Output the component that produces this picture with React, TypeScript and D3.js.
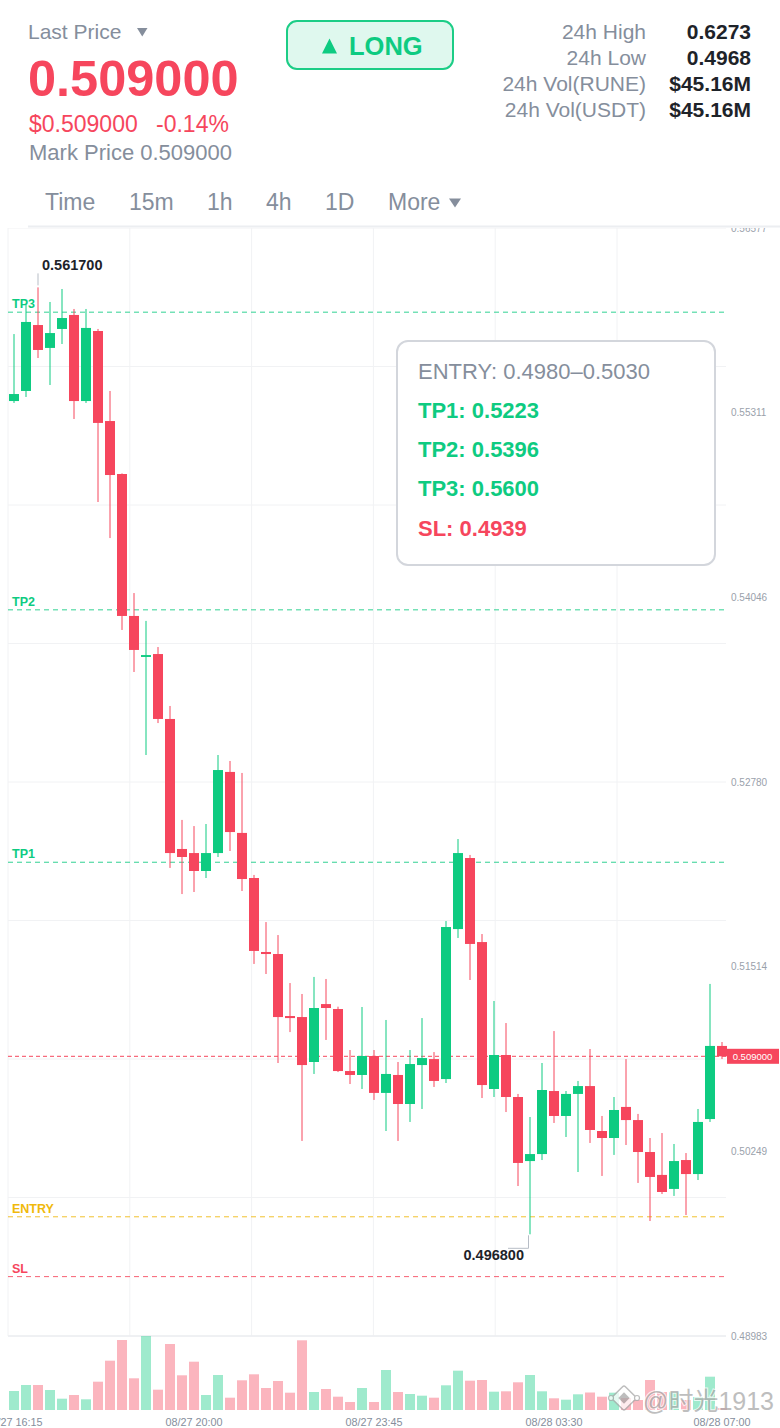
import React from "react";
import * as d3 from "d3";

// ---------- DATA ----------
const START_TIME = "08/27 16:15";
const STEP_MINUTES = 15;

const opens = [
  0.55391, 0.5546, 0.55912, 0.55755, 0.55885, 0.55981, 0.55391, 0.55871, 0.55254, 0.54891,
  0.53918, 0.53637, 0.53657, 0.53212, 0.52321, 0.52293, 0.5217, 0.52293, 0.52849, 0.52431,
  0.52122, 0.51615, 0.51601, 0.51176, 0.51169, 0.50861, 0.51258, 0.51224, 0.50799, 0.50772,
  0.50902, 0.50649, 0.50772, 0.50573, 0.5084, 0.50881, 0.50744, 0.51772, 0.52259, 0.51683,
  0.50676, 0.50909, 0.50621, 0.50182, 0.5023, 0.50662, 0.50491, 0.50642, 0.50696, 0.50388,
  0.5034, 0.50553, 0.50463, 0.50244, 0.50087, 0.49991, 0.50189, 0.50093, 0.5047, 0.50971,
];
const highs = [
  0.5585, 0.56049, 0.5617, 0.5607, 0.56159, 0.56022, 0.56022, 0.55885, 0.5546, 0.54895,
  0.54075, 0.53884, 0.53705, 0.53301, 0.5252, 0.52478, 0.52492, 0.52965, 0.52924, 0.52842,
  0.52143, 0.5182, 0.51731, 0.51402, 0.51327, 0.51444, 0.5143, 0.5124, 0.50943, 0.51238,
  0.50943, 0.51149, 0.50861, 0.50943, 0.51162, 0.50929, 0.51827, 0.52389, 0.5228, 0.51738,
  0.51279, 0.51128, 0.50642, 0.50484, 0.50854, 0.51073, 0.50662, 0.50731, 0.5095, 0.50491,
  0.50621, 0.50881, 0.50505, 0.5034, 0.50374, 0.50299, 0.50237, 0.50539, 0.51396, 0.50998,
];
const lows = [
  0.55378, 0.55419, 0.55686, 0.55501, 0.55782, 0.55268, 0.55378, 0.54699, 0.54452, 0.53822,
  0.53534, 0.52965, 0.53184, 0.52191, 0.52012, 0.52026, 0.52122, 0.52266, 0.52307, 0.52033,
  0.51533, 0.51464, 0.50854, 0.51066, 0.5032, 0.50779, 0.51012, 0.50792, 0.5071, 0.50676,
  0.50601, 0.50388, 0.5032, 0.5045, 0.50539, 0.5069, 0.50717, 0.51711, 0.51423, 0.50614,
  0.50621, 0.50518, 0.50011, 0.4968, 0.50189, 0.50443, 0.50347, 0.50107, 0.50306, 0.5008,
  0.50224, 0.50292, 0.50032, 0.49771, 0.49956, 0.49943, 0.49812, 0.50052, 0.5045, 0.50881,
];
const closes = [
  0.55439, 0.55933, 0.55741, 0.55857, 0.5596, 0.55391, 0.55892, 0.55241, 0.54884, 0.53918,
  0.53685, 0.5365, 0.53212, 0.52293, 0.52266, 0.5217, 0.52293, 0.52862, 0.52437, 0.52115,
  0.51622, 0.51601, 0.51169, 0.51162, 0.5084, 0.51231, 0.51231, 0.50799, 0.50772, 0.50902,
  0.50649, 0.50779, 0.50573, 0.50847, 0.50888, 0.50731, 0.51786, 0.52293, 0.5167, 0.50703,
  0.50909, 0.50621, 0.50169, 0.5023, 0.50669, 0.50491, 0.50642, 0.50696, 0.50395, 0.5034,
  0.50532, 0.50463, 0.50244, 0.50073, 0.4997, 0.50182, 0.50093, 0.5045, 0.50971, 0.509,
];
const volumes = [
  190, 250, 250, 200, 113, 150, 107, 283, 493, 700,
  317, 740, 203, 660, 347, 483, 150, 350, 123, 297,
  357, 220, 290, 173, 697, 180, 210, 133, 80, 220,
  80, 400, 180, 160, 143, 123, 247, 393, 293, 300,
  183, 187, 277, 350, 187, 117, 103, 157, 175, 133,
  173, 120, 100, 300, 180, 177, 100, 130, 333, 20,
];

const yTickLabels = ["0.56577", "0.55311", "0.54046", "0.52780", "0.51514", "0.50249", "0.48983"];
const xTickLabels = ["08/27 16:15", "08/27 20:00", "08/27 23:45", "08/28 03:30", "08/28 07:00"];

const levelNames = ["TP3", "TP2", "TP1", "ENTRY", "SL"];
const levelValues = [0.56, 0.5396, 0.5223, 0.498, 0.4939];

const boxLines = ["ENTRY: 0.4980–0.5030", "TP1: 0.5223", "TP2: 0.5396", "TP3: 0.5600", "SL: 0.4939"];

const statLabels = ["24h High", "24h Low", "24h Vol(RUNE)", "24h Vol(USDT)"];
const statValues = ["0.6273", "0.4968", "$45.16M", "$45.16M"];

const tabs = ["Time", "15m", "1h", "4h", "1D", "More"];

// ---------- STYLE / LAYOUT ----------
const FONT = "'Liberation Sans', Arial, Helvetica, sans-serif";
const GREEN = "#0ecb81";
const RED = "#f6465d";
const YELLOW = "#f0b90b";
const GREY = "#858e9c";
const DARK = "#1e2329";
const GRID = "#f1f2f4";

const W = 780;
const H = 1428;
const PLOT_L = 8;
const PLOT_R = 726;
const PRICE_TOP = 228;
const PRICE_BOT = 1336;
const VOL_BASE = 1410;
const tabX = [45, 129, 207, 266, 325, 388];
const levelColors = [GREEN, GREEN, GREEN, YELLOW, RED];
const boxColors = [GREY, GREEN, GREEN, GREEN, RED];

export default function App() {
  const parse = d3.timeParse("%m/%d %H:%M");
  const t0 = parse(START_TIME) as Date;
  const dates = opens.map((_, i) => d3.timeMinute.offset(t0, i * STEP_MINUTES));

  const x = d3
    .scaleTime()
    .domain([dates[0], dates[dates.length - 1]])
    .range([14, 722]);
  const yMin = +yTickLabels[yTickLabels.length - 1];
  const yMax = +yTickLabels[0];
  const y = d3.scaleLinear().domain([yMin, yMax]).range([PRICE_BOT, PRICE_TOP]);
  const v = d3
    .scaleLinear()
    .domain([0, d3.max(volumes) as number])
    .range([VOL_BASE, PRICE_BOT]);

  const hGrid = d3.range(9).map((i) => y(yMin + ((yMax - yMin) * i) / 8));
  const vGrid = d3.range(1, 6).map((k) => PLOT_L + k * 121.8);

  const fmt = d3.format(".6f");
  const hiIdx = d3.maxIndex(highs);
  const loIdx = d3.minIndex(lows);
  const last = closes[closes.length - 1];
  const yLast = y(last);

  const bodyW = 10;

  return (
    <svg
      width={W}
      height={H}
      viewBox={`0 0 ${W} ${H}`}
      style={{ position: "absolute", left: 0, top: 0, background: "#fff" }}
      fontFamily={FONT}
    >
      <rect x={0} y={0} width={W} height={H} fill="#fff" />

      {/* ---------- HEADER ---------- */}
      <text x={28} y={38.5} fontSize={21} fill={GREY}>Last Price</text>
      <path d="M137,28 L147.5,28 L142.25,36.5 Z" fill={GREY} />
      <text x={28} y={96} fontSize={50.5} fontWeight="bold" fill={RED}>{fmt(last)}</text>
      <text x={29} y={132} fontSize={23} fill={RED}>${fmt(last)}</text>
      <text x={156} y={132} fontSize={23} fill={RED}>-0.14%</text>
      <text x={29} y={159.5} fontSize={22} fill={GREY}>Mark Price {fmt(last)}</text>

      <rect x={287} y={21} width={166} height={48} rx={10} fill="#dff8ee" stroke="#1ccd86" strokeWidth={2} />
      <path d="M322,53.5 L337,53.5 L329.5,38.5 Z" fill={GREEN} />
      <text x={349} y={54.5} fontSize={25.5} fontWeight="bold" fill={GREEN}>LONG</text>

      {statLabels.map((s, i) => (
        <g key={s}>
          <text x={646} y={38.5 + i * 26} fontSize={21} fill={GREY} textAnchor="end">{s}</text>
          <text x={751} y={38.5 + i * 26} fontSize={21} fontWeight="bold" fill={DARK} textAnchor="end">
            {statValues[i]}
          </text>
        </g>
      ))}

      {tabs.map((t, i) => (
        <text key={t} x={tabX[i]} y={210} fontSize={23} fill={GREY}>{t}</text>
      ))}
      <path d="M449,198.5 L461,198.5 L455,207.5 Z" fill={GREY} />

      <line x1={28} x2={W} y1={226.5} y2={226.5} stroke="#eceef1" strokeWidth={2} />

      {/* ---------- CHART ---------- */}
      <defs>
        <clipPath id="chartClip">
          <rect x={0} y={PRICE_TOP} width={W} height={H - PRICE_TOP} />
        </clipPath>
      </defs>
      <g clipPath="url(#chartClip)">
        {hGrid.map((gy, i) => (
          <line key={"h" + i} x1={PLOT_L} x2={PLOT_R} y1={gy} y2={gy} stroke={GRID} strokeWidth={1} />
        ))}
        {vGrid.map((gx, i) => (
          <line key={"v" + i} x1={gx} x2={gx} y1={PRICE_TOP} y2={PRICE_BOT} stroke={GRID} strokeWidth={1} />
        ))}
        <line x1={PLOT_L} x2={PLOT_L} y1={PRICE_TOP} y2={PRICE_BOT} stroke={GRID} strokeWidth={1} />
        <line x1={PLOT_L} x2={PLOT_R} y1={PRICE_BOT} y2={PRICE_BOT} stroke="#eceef1" strokeWidth={1.5} />

        {yTickLabels.map((t) => (
          <text key={t} x={731} y={y(+t)} fontSize={10} fill="#9aa1ab" dominantBaseline="central">
            {t}
          </text>
        ))}

        {levelNames.map((n, i) => {
          const ly = y(levelValues[i]);
          return (
            <g key={n}>
              <line
                x1={PLOT_L}
                x2={PLOT_R}
                y1={ly}
                y2={ly}
                stroke={levelColors[i]}
                strokeWidth={1}
                strokeDasharray="5 4"
                opacity={0.85}
              />
              <text x={12} y={ly - 4} fontSize={12.5} fontWeight="bold" fill={levelColors[i]}>
                {n}
              </text>
            </g>
          );
        })}

        <line x1={PLOT_L} x2={PLOT_R} y1={yLast} y2={yLast} stroke={RED} strokeWidth={1} strokeDasharray="4 3" />

        {volumes.map((vol, i) => {
          const up = closes[i] >= opens[i];
          return (
            <rect
              key={"vol" + i}
              x={x(dates[i]) - bodyW / 2}
              y={v(vol)}
              width={bodyW}
              height={VOL_BASE - v(vol)}
              fill={up ? GREEN : RED}
              opacity={0.4}
            />
          );
        })}

        {opens.map((o, i) => {
          const c = closes[i];
          const up = c >= o;
          const col = up ? GREEN : RED;
          const cx = x(dates[i]);
          const top = y(Math.max(o, c));
          const bot = y(Math.min(o, c));
          return (
            <g key={"c" + i}>
              <line x1={cx} x2={cx} y1={y(highs[i])} y2={y(lows[i])} stroke={col} strokeWidth={1} />
              <rect x={cx - bodyW / 2} y={top} width={bodyW} height={Math.max(1, bot - top)} fill={col} />
            </g>
          );
        })}

        <line
          x1={x(dates[hiIdx])}
          x2={x(dates[hiIdx])}
          y1={y(highs[hiIdx]) - 2}
          y2={y(highs[hiIdx]) - 14}
          stroke="#b7bdc6"
          strokeWidth={1}
        />
        <text x={x(dates[hiIdx]) + 4} y={y(highs[hiIdx]) - 17} fontSize={14.5} fontWeight="bold" fill={DARK}>
          {fmt(highs[hiIdx])}
        </text>
        <path
          d={`M${x(dates[loIdx]) - 1.5},${y(lows[loIdx]) + 1} L${x(dates[loIdx]) - 1.5},${y(lows[loIdx]) + 14} L${
            x(dates[loIdx]) - 22
          },${y(lows[loIdx]) + 14}`}
          fill="none"
          stroke="#b7bdc6"
          strokeWidth={1}
        />
        <text
          x={x(dates[loIdx]) - 6}
          y={y(lows[loIdx]) + 25.5}
          fontSize={14.5}
          fontWeight="bold"
          fill={DARK}
          textAnchor="end"
        >
          {fmt(lows[loIdx])}
        </text>

        <rect x={727} y={yLast - 7.5} width={52} height={15} fill={RED} />
        <text x={752.5} y={yLast} fontSize={9.5} fill="#fff" textAnchor="middle" dominantBaseline="central">
          {fmt(last)}
        </text>
      </g>

      {xTickLabels.map((t) => (
        <text key={t} x={x(parse(t) as Date)} y={1426} fontSize={10.8} fill={GREY} textAnchor="middle">
          {t}
        </text>
      ))}

      <rect x={397} y={341} width={318} height={224} rx={11} fill="#fff" stroke="#d3d6dc" strokeWidth={2} />
      {boxLines.map((l, i) => (
        <text
          key={l}
          x={418}
          y={378.5 + i * 39.3}
          fontSize={22}
          fontWeight={i === 0 ? "normal" : "bold"}
          fill={boxColors[i]}
        >
          {l}
        </text>
      ))}

      <g opacity={0.75}>
        <g transform="translate(624,1398) rotate(45)" fill="#fff" stroke="#a8a8a8" strokeWidth={1.5}>
          <rect x={-9} y={-9} width={18} height={18} rx={2} />
          <rect x={-4} y={-4} width={8} height={8} fill="#a8a8a8" stroke="none" />
        </g>
        <circle cx={611} cy={1398} r={2.5} fill="#fff" stroke="#a8a8a8" strokeWidth={1.2} />
        <circle cx={637} cy={1398} r={2.5} fill="#fff" stroke="#a8a8a8" strokeWidth={1.2} />
        <text
          x={643}
          y={1410}
          fontSize={25}
          fontFamily="'Liberation Sans', 'Noto Sans CJK SC', sans-serif"
          fill="#a9a9a9"
          stroke="#fff"
          strokeWidth={2}
          paintOrder="stroke"
        >
          @时光1913
        </text>
      </g>
    </svg>
  );
}
